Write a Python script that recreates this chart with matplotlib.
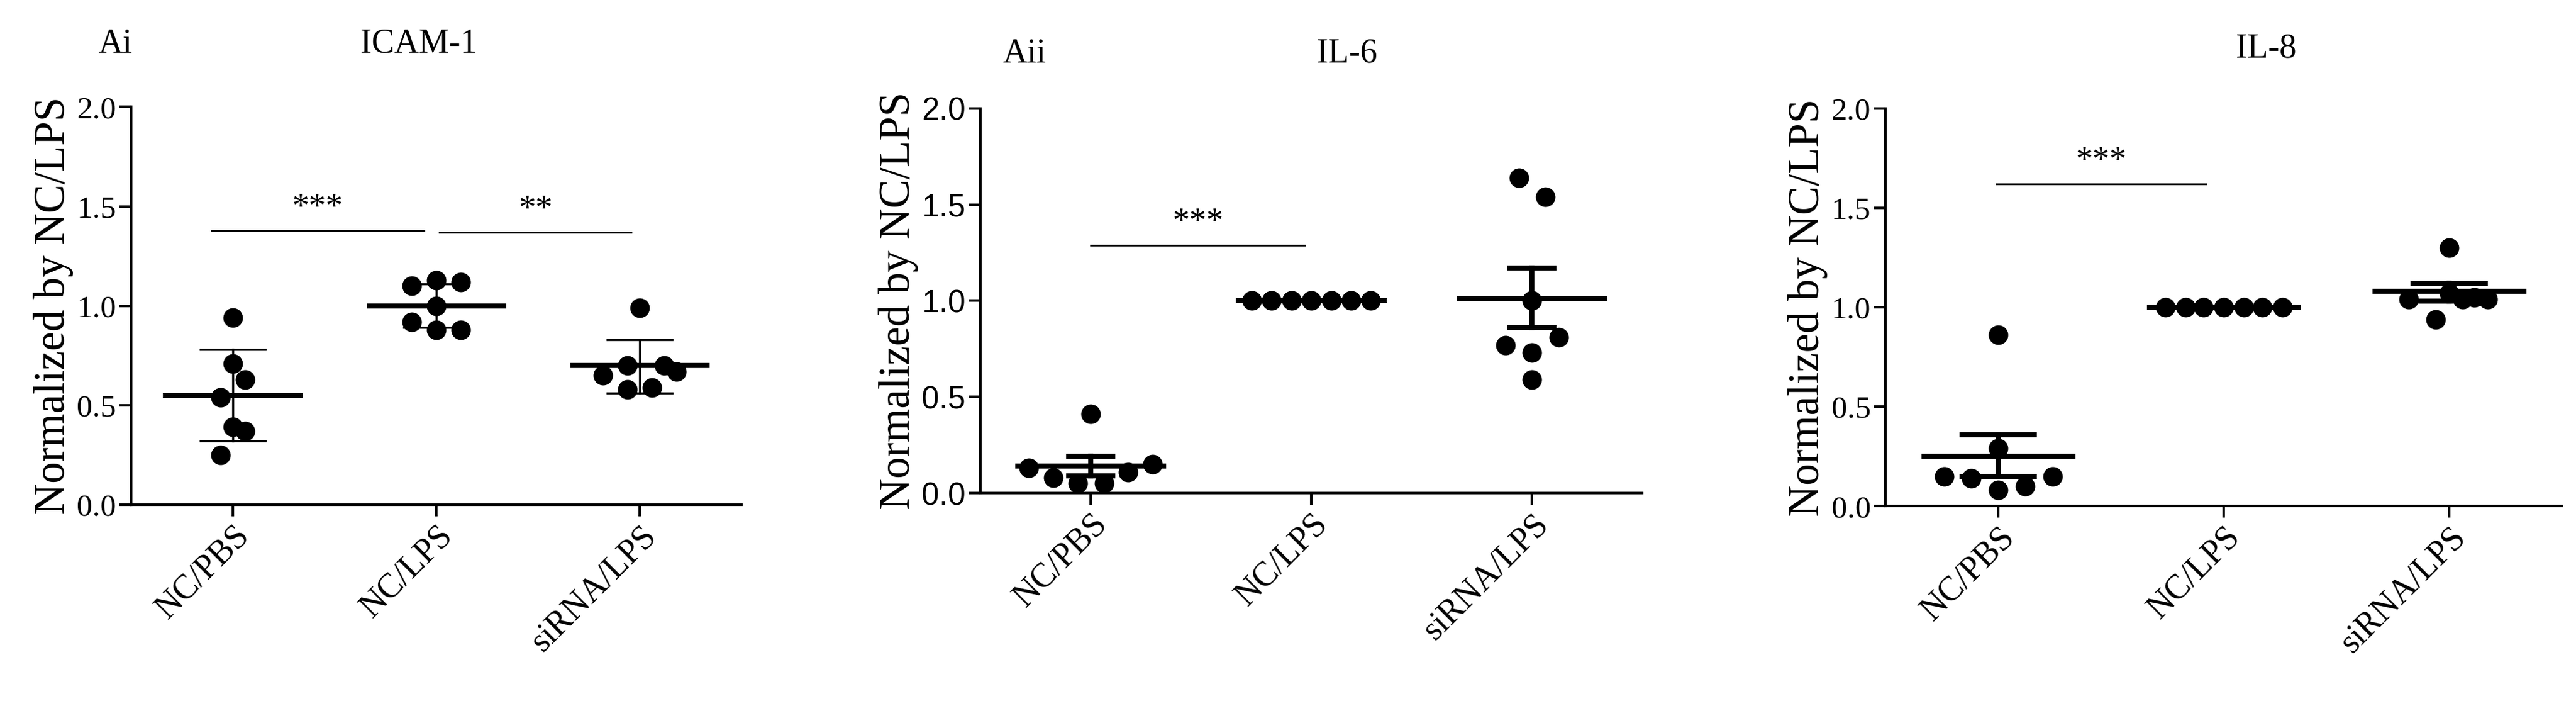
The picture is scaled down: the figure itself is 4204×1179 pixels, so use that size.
import matplotlib
matplotlib.use("Agg")
import matplotlib.pyplot as plt
import numpy as np

W, H = 4204, 1179
GROUPS = ["NC/PBS", "NC/LPS", "siRNA/LPS"]

# ICAM-1 (mean +/- SD)
icam_vals = [[0.94, 0.71, 0.63, 0.54, 0.39, 0.37, 0.25],
             [1.13, 1.10, 1.12, 1.00, 0.92, 0.88, 0.88],
             [0.99, 0.70, 0.70, 0.65, 0.67, 0.58, 0.59]]
icam_offs = [[0, 0, 0.06, -0.06, 0, 0.06, -0.06],
             [0, -0.12, 0.12, 0, -0.12, 0, 0.12],
             [0, -0.06, 0.12, -0.18, 0.18, -0.06, 0.06]]
icam_mean = [0.55, 1.00, 0.70]
icam_err_hi = [0.78, 1.11, 0.83]
icam_err_lo = [0.32, 0.89, 0.56]

# IL-6 (mean +/- SEM)
il6_vals = [[0.41, 0.13, 0.15, 0.08, 0.11, 0.05, 0.05],
            [1.0] * 7,
            [1.64, 1.54, 1.00, 0.81, 0.77, 0.73, 0.59]]
il6_offs = [[0, -0.28, 0.28, -0.17, 0.17, -0.06, 0.06],
            [-0.27, -0.18, -0.09, 0, 0.09, 0.18, 0.27],
            [-0.06, 0.06, 0, 0.12, -0.12, 0, 0]]
il6_mean = [0.14, 1.0, 1.01]
il6_err_hi = [0.19, 1.0, 1.17]
il6_err_lo = [0.09, 1.0, 0.86]

# IL-8 (mean +/- SEM)
il8_vals = [[0.86, 0.29, 0.15, 0.15, 0.14, 0.08, 0.10],
            [1.0] * 7,
            [1.30, 0.94, 1.04, 1.04, 1.04, 1.05, 1.07]]
il8_offs = [[0, 0, -0.24, 0.24, -0.12, 0, 0.12],
            [-0.26, -0.17, -0.09, 0, 0.09, 0.17, 0.26],
            [0, -0.06, -0.18, 0.06, 0.17, 0.11, 0]]
il8_mean = [0.25, 1.0, 1.08]
il8_err_hi = [0.36, 1.0, 1.12]
il8_err_lo = [0.15, 1.0, 1.03]

SERIF = "Liberation Serif"
SANS = "Liberation Sans"


def panel(fig, rect, vals, offs, mean, hi, lo, bars, tickfont, err_lw, cap_w):
    ax = fig.add_axes(rect)
    for i in range(3):
        x = i + np.array(offs[i])
        ax.plot(x, vals[i], "o", color="black", ms=22, zorder=3)
        ax.plot([i - 0.33, i + 0.33], [mean[i], mean[i]], color="black", lw=6, zorder=4)
        if hi[i] != lo[i]:
            ax.plot([i, i], [lo[i], hi[i]], color="black", lw=err_lw, zorder=4)
            for y in (lo[i], hi[i]):
                ax.plot([i - cap_w, i + cap_w], [y, y], color="black", lw=err_lw, zorder=4)
    for x0, x1, y, txt in bars:
        ax.plot([x0, x1], [y, y], color="black", lw=2)
        ax.text((x0 + x1) / 2, y + 0.03, txt, ha="center", va="bottom",
                fontsize=40, family=SERIF)
    ax.set_xlim(-0.5, 2.5)
    ax.set_ylim(0, 2.0)
    ax.set_yticks([0, 0.5, 1.0, 1.5, 2.0])
    ax.set_yticklabels(["0.0", "0.5", "1.0", "1.5", "2.0"], family=tickfont, fontsize=37)
    ax.set_xticks(range(3))
    ax.set_xticklabels(GROUPS, rotation=45, ha="right", rotation_mode="anchor",
                       family=SERIF, fontsize=40)
    ax.set_ylabel("Normalized by NC/LPS", family=SERIF, fontsize=51)
    for s in ("top", "right"):
        ax.spines[s].set_visible(False)
    for s in ("left", "bottom"):
        ax.spines[s].set_linewidth(3)
    ax.tick_params(width=3, length=14)
    return ax


fig = plt.figure(figsize=(W / 100, H / 100), dpi=100)

panel(fig, [0.0509, 0.302, 0.237, 0.550], icam_vals, icam_offs, icam_mean,
      icam_err_hi, icam_err_lo,
      [(-0.107, 0.94, 1.38, "***"), (1.016, 1.957, 1.37, "**")], SERIF, 2.5, 0.16)
panel(fig, [0.3806, 0.318, 0.257, 0.532], il6_vals, il6_offs, il6_mean,
      il6_err_hi, il6_err_lo, [(0, 0.97, 1.29, "***")], SANS, 6, 0.1)
panel(fig, [0.732, 0.300, 0.2626, 0.550], il8_vals, il8_offs, il8_mean,
      il8_err_hi, il8_err_lo, [(-0.01, 0.92, 1.62, "***")], SERIF, 6, 0.16)

for x, y, txt in [(188, 72, "Ai"), (683, 72, "ICAM-1"), (1672, 88, "Aii"),
                  (2198, 88, "IL-6"), (3698, 80, "IL-8")]:
    fig.text(x / W, 1 - y / H, txt, ha="center", va="center", family=SERIF, fontsize=40)

fig.savefig("out.png", dpi=100)
